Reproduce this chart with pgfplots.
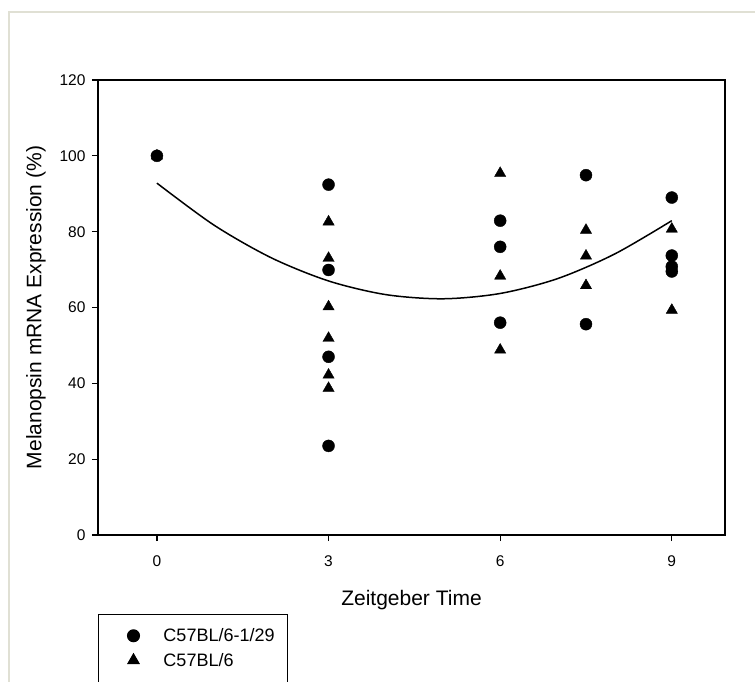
\documentclass[border=0pt]{standalone}
\usepackage{fontspec}
\setmainfont{Liberation Sans}
\usepackage{pgfplots}
\pgfplotsset{compat=1.18}
\definecolor{framecol}{RGB}{224,224,212}
\newcommand{\legtext}[1]{\makebox[124pt][l]{#1}}

\begin{document}
\begin{tikzpicture}
\useasboundingbox (0pt,0pt) rectangle (755pt,681pt);
\fill[white] (0pt,0pt) rectangle (755pt,681pt);
% outer frame, only top and left show
\draw[framecol, line width=1.5pt] (9pt,-5pt) -- (9pt,669pt) -- (760pt,669pt);
\begin{axis}[
  at={(98pt,146pt)}, anchor=south west,
  scale only axis,
  width=627pt, height=455pt,
  xmin=-1.03, xmax=9.93,
  ymin=0, ymax=120,
  xtick={0,3,6,9},
  ytick={0,20,...,120},
  tick pos=left,
  tick align=outside,
  major tick length=6pt,
  axis line style={line width=1.3pt},
  tick style={line width=1.2pt, black},
  /pgf/number format/assume math mode=true,
  tick label style={font=\fontsize{15.5}{18}\selectfont},
  xticklabel style={yshift=-11pt},
  yticklabel style={xshift=-3pt},
  label style={font=\fontsize{21}{24}\selectfont},
  xlabel={Zeitgeber Time},
  ylabel={Melanopsin mRNA Expression (\%)},
  xlabel style={yshift=-17pt},
  ylabel style={yshift=7pt},
  legend style={at={(0,-0.1736)}, anchor=north west, draw=black, line width=1pt,
    font=\fontsize{18}{21}\selectfont, inner xsep=0pt, inner ysep=14pt,
    row sep=10pt, column sep=0pt, nodes={inner sep=0pt}},
  legend cell align=left,
  legend image code/.code={\path[draw=none,fill=none] (-35pt,0pt) -- (30pt,0pt);
    \draw[#1] plot coordinates {(0pt,0pt)};},
]
\addplot[only marks, mark=*, mark size=6pt, black] coordinates {
  (0,100)
  (3,92.4) (3,69.9) (3,47.0) (3,23.5)
  (6,82.9) (6,76.0) (6,56.0)
  (7.5,94.9) (7.5,55.6)
  (9,89.0) (9,73.7) (9,70.8) (9,69.5)
};
\addlegendentry{\legtext{C57BL/6-1/29}}
\addplot[only marks, mark=triangle*, mark size=6.5pt, black] coordinates {
  (0,100)
  (3,82.6) (3,73.0) (3,60.2) (3,51.9) (3,42.2) (3,38.7)
  (6,95.4) (6,68.3) (6,48.8)
  (7.5,80.4) (7.5,73.6) (7.5,65.8)
  (9,80.7) (9,59.3)
};
\addlegendentry{\legtext{C57BL/6}}
\addlegendimage{empty legend}
\addlegendentry{\legtext{}}
% fitted quadratic
\addplot[black, line width=1.5pt, smooth, forget plot] coordinates {
  (0,92.8) (1,81.7) (2,73.1) (3,67.0) (4,63.4) (5,62.3)
  (6,63.7) (7,67.6) (8,74.1) (9,82.9)
};
\end{axis}
\end{tikzpicture}
\end{document}
